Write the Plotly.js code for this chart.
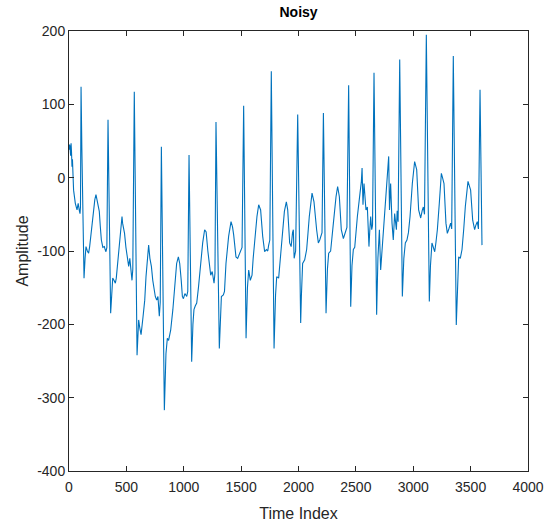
<!DOCTYPE html>
<html>
<head>
<meta charset="utf-8">
<script src="https://cdn.plot.ly/plotly-3.0.1.min.js"></script>
<style>html,body{margin:0;padding:0;background:#fff;}#chart{width:557px;height:522px;}</style>
</head>
<body>
<div id="chart"></div>
<script>
// Vertices (time index, amplitude)
const timeIndex = [
1,5,9,14,18,22,26,30,40,55,70,80,90,96,100,
105,112,131,140,148,160,171,180,195,212,225,235,245,255,264,272,282,295,308,315,322,330,
340,363,372,381,392,404,412,425,439,450,462,467,475,484,496,508,520,530,540,549,556,
569,593,607,617,628,645,660,671,683,694,705,718,730,741,752,764,775,787,795,
805,831,845,857,868,886,905,921,938,953,965,978,988,997,1010,1026,1035,
1046,1069,1080,1089,1100,1113,1128,1142,1155,1165,1182,1195,1210,1223,1235,1248,1264,1272,
1281,1310,1320,1328,1345,1355,1368,1380,1391,1412,1425,1435,1444,1455,1470,1485,1496,1508,
1522,1543,1555,1566,1580,1595,1605,1618,1638,1653,1670,1688,1705,1720,1732,1740,1750,
1763,1787,1800,1810,1827,1840,1856,1877,1894,1906,1923,1936,1948,1955,1962,1975,
1993,2019,2025,2036,2054,2071,2083,2094,2118,2135,2158,2173,2185,2193,2205,
2217,2240,2252,2263,2280,2292,2304,2327,2341,2356,2373,2391,2402,2411,2422,
2437,2455,2466,2478,2490,2500,2513,2536,2548,2554,2562,2571,2580,2588,2600,2614,2622,2629,2638,2645,
2658,2681,2692,2705,2716,2725,2733,2745,2757,2774,2786,2793,2803,2815,2826,2838,2853,2860,2868,
2882,2905,2918,2931,2945,2958,2972,2992,3012,3030,3047,3065,3078,3088,3098,
3114,3140,3150,3163,3175,3187,3198,3210,3227,3245,3255,3268,3285,3297,3310,3326,3335,
3349,3375,3385,3396,3410,3425,3440,3454,3477,3488,3500,3518,3535,3545,3558,3568,
3582,3599
];
const amplitude = [
38,45,42,30,47,35,15,25,-17,-35,-44,-35,-45,-49,-40,
124,40,-137,-110,-94,-100,-103,-94,-70,-44,-30,-23,-32,-38,-46,-65,-85,-95,-94,-98,-101,-95,
79,-185,-150,-137,-140,-144,-137,-115,-89,-68,-53,-62,-68,-76,-95,-108,-121,-110,-125,-140,-125,
117,-242,-194,-205,-214,-190,-167,-135,-108,-92,-110,-121,-140,-153,-162,-167,-162,-189,-170,
42,-317,-240,-219,-222,-208,-180,-153,-117,-108,-117,-140,-162,-165,-158,-162,-155,
31,-251,-200,-180,-175,-171,-150,-126,-105,-89,-71,-74,-100,-117,-133,-128,-144,-130,
76,-233,-185,-162,-160,-155,-117,-98,-80,-60,-67,-78,-89,-108,-110,-105,-101,-95,
98,-219,-150,-126,-140,-133,-110,-85,-53,-37,-44,-80,-101,-98,-100,-92,-85,
145,-233,-160,-135,-137,-115,-80,-46,-33,-44,-89,-94,-75,-71,-110,-100,
86,-198,-162,-117,-112,-98,-75,-53,-21,-33,-71,-89,-85,-80,-75,
88,-185,-125,-103,-100,-85,-62,-26,-12,-26,-71,-83,-78,-71,-68,
126,-176,-120,-98,-95,-75,-53,-21,-5,13,-37,-8,-30,-44,-40,-94,-70,-53,-71,-65,
143,-187,-110,-71,-126,-105,-89,-53,-26,15,29,-44,-8,-62,-85,-49,-71,-45,-60,
161,-162,-110,-89,-85,-75,-53,-8,22,11,-44,-55,-45,-40,-50,
195,-169,-120,-89,-95,-101,-88,-71,-35,6,0,-8,-62,-76,-70,-62,-70,
166,-201,-150,-108,-110,-98,-70,-39,-5,-10,-17,-58,-71,-65,-60,-70,
120,-92
];
const xTicks = [0,500,1000,1500,2000,2500,3000,3500,4000];
const yTicks = [-400,-300,-200,-100,0,100,200];

const axisColor = '#262626';
const fontFam = '"Liberation Sans", Arial, Helvetica, sans-serif';

const trace = {
  x: timeIndex, y: amplitude, type: 'scatter', mode: 'lines',
  line: {color: '#0072BD', width: 1.1},
  hoverinfo: 'none'
};

const layout = {
  width: 557, height: 522,
  margin: {l: 69, r: 29, t: 31, b: 51},
  paper_bgcolor: '#fff', plot_bgcolor: '#fff',
  showlegend: false,
  font: {family: fontFam, color: axisColor, size: 14},
  title: {text: '<b>Noisy</b>', x: 0.536, xanchor: 'center', y: 0.977, yanchor: 'middle',
          font: {family: fontFam, size: 14, color: '#000'}},
  xaxis: {
    range: [0, 4000], tickvals: xTicks, ticktext: xTicks.map(String),
    ticks: 'inside', ticklen: 5, tickcolor: axisColor, tickwidth: 1,
    showline: true, linecolor: axisColor, linewidth: 1, mirror: 'ticks',
    showgrid: false, zeroline: false, automargin: false,
    ticklabelstandoff: 3,
    tickfont: {size: 14, color: axisColor},
    title: {text: 'Time Index', font: {size: 16, color: axisColor}, standoff: 15}
  },
  yaxis: {
    range: [-400, 200], tickvals: yTicks, ticktext: yTicks.map(String),
    ticks: 'inside', ticklen: 5, tickcolor: axisColor, tickwidth: 1,
    showline: true, linecolor: axisColor, linewidth: 1, mirror: 'ticks',
    showgrid: false, zeroline: false, automargin: false,
    tickfont: {size: 14, color: axisColor},
    title: {text: 'Amplitude', font: {size: 16, color: axisColor}, standoff: 4}
  }
};

Plotly.newPlot('chart', [trace], layout, {staticPlot: true, displayModeBar: false});
</script>
</body>
</html>
